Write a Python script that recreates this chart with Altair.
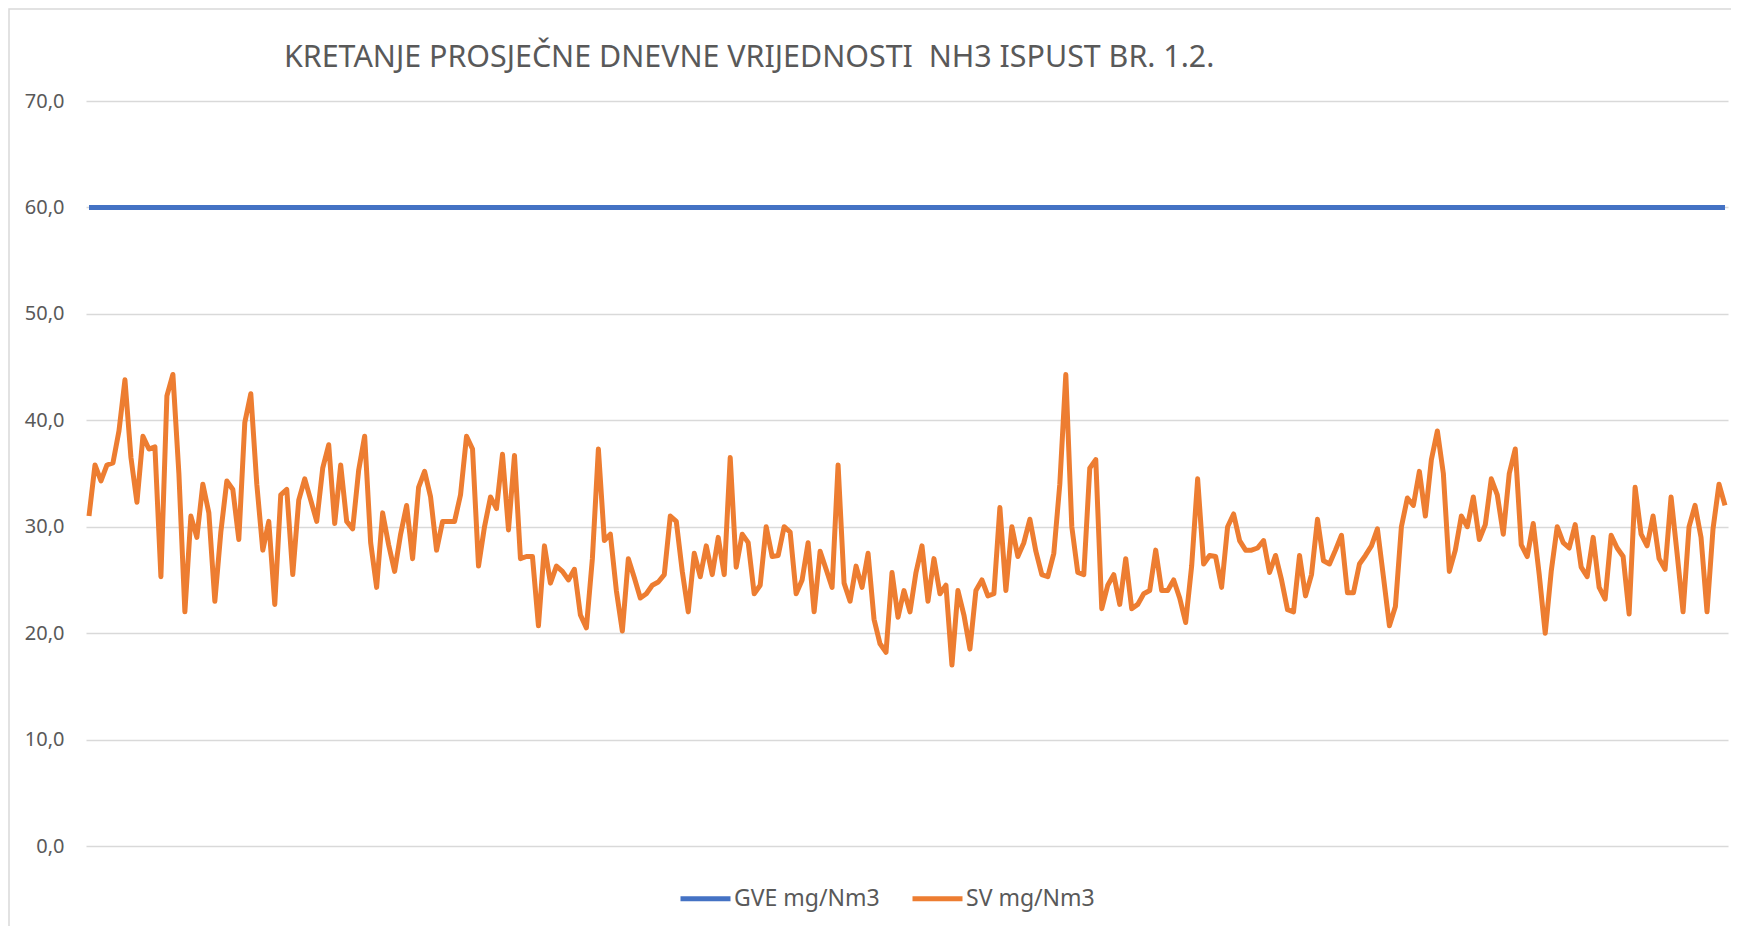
import altair as alt
import pandas as pd

sv_values = [
    31.0, 35.8, 34.3, 35.8, 36.0, 39.0, 43.8, 36.5, 32.3, 38.5, 37.3, 37.5, 25.3, 42.3, 44.3, 35.0,
    22.0, 31.0, 29.0, 34.0, 31.3, 23.0, 29.5, 34.3, 33.5, 28.8, 39.8, 42.5, 34.0, 27.8, 30.5, 22.7,
    33.0, 33.5, 25.5, 32.5, 34.5, 32.5, 30.5, 35.5, 37.7, 30.3, 35.8, 30.5, 29.8, 35.3, 38.5, 28.5,
    24.3, 31.3, 28.3, 25.8, 29.3, 32.0, 27.0, 33.7, 35.2, 32.8, 27.8, 30.5, 30.5, 30.5, 33.0, 38.5,
    37.3, 26.3, 30.0, 32.8, 31.7, 36.8, 29.7, 36.7, 27.0, 27.2, 27.2, 20.7, 28.2, 24.7, 26.3, 25.8,
    25.0, 26.0, 21.7, 20.5, 27.0, 37.3, 28.7, 29.3, 24.0, 20.2, 27.0, 25.2, 23.3, 23.7, 24.5, 24.8,
    25.5, 31.0, 30.5, 25.8, 22.0, 27.5, 25.3, 28.2, 25.5, 29.0, 25.5, 36.5, 26.2, 29.3, 28.5, 23.7,
    24.5, 30.0, 27.2, 27.3, 30.0, 29.5, 23.7, 25.0, 28.5, 22.0, 27.7, 26.0, 24.3, 35.8, 24.7, 23.0,
    26.3, 24.3, 27.5, 21.3, 19.0, 18.2, 25.7, 21.5, 24.0, 22.0, 25.7, 28.2, 23.0, 27.0, 23.7, 24.5,
    17.0, 24.0, 21.7, 18.5, 24.0, 25.0, 23.5, 23.7, 31.8, 24.0, 30.0, 27.2, 28.5, 30.7, 27.7, 25.5,
    25.3, 27.5, 34.0, 44.3, 30.0, 25.7, 25.5, 35.5, 36.3, 22.3, 24.5, 25.5, 22.7, 27.0, 22.3, 22.7,
    23.7, 24.0, 27.8, 24.0, 24.0, 25.0, 23.3, 21.0, 26.3, 34.5, 26.5, 27.3, 27.2, 24.3, 30.0, 31.2,
    28.7, 27.8, 27.8, 28.0, 28.7, 25.7, 27.3, 25.0, 22.2, 22.0, 27.3, 23.5, 25.5, 30.7, 26.8, 26.5,
    27.8, 29.2, 23.8, 23.8, 26.5, 27.3, 28.2, 29.8, 25.3, 20.7, 22.5, 30.0, 32.7, 32.0, 35.2, 31.0,
    36.3, 39.0, 35.0, 25.8, 27.8, 31.0, 30.0, 32.8, 28.8, 30.2, 34.5, 33.0, 29.3, 35.0, 37.3, 28.3,
    27.2, 30.3, 25.5, 20.0, 25.8, 30.0, 28.5, 28.0, 30.2, 26.2, 25.3, 29.0, 24.3, 23.2, 29.2, 28.0,
    27.2, 21.8, 33.7, 29.3, 28.2, 31.0, 27.0, 26.0, 32.8, 27.5, 22.0, 30.0, 32.0, 29.0, 22.0, 29.8,
    34.0, 32.0,
]
gve_value = 60.0
series_names = ["GVE mg/Nm3", "SV mg/Nm3"]
series_colors = ["#4472C4", "#ED7D31"]
y_ticks = [0, 10, 20, 30, 40, 50, 60, 70]
title_text = ["KRETANJE PROSJEČNE DNEVNE VRIJEDNOSTI \u00a0NH3 ISPUST BR. 1.2."]

n = len(sv_values)
rows = []
for i, v in enumerate(sv_values):
    rows.append({"idx": i + 0.5, "value": gve_value, "series": series_names[0]})
for i, v in enumerate(sv_values):
    rows.append({"idx": i + 0.5, "value": v, "series": series_names[1]})
df = pd.DataFrame(rows)

W, H = 1642, 745
FONT = "Noto Sans"
TXT = "#595959"

lines = alt.Chart(df).mark_line(strokeWidth=5, strokeJoin="round", strokeCap="butt").encode(
    x=alt.X("idx:Q", scale=alt.Scale(domain=[0, n], nice=False, zero=False), axis=None),
    y=alt.Y(
        "value:Q",
        scale=alt.Scale(domain=[0, 70], nice=False),
        axis=alt.Axis(
            values=y_ticks,
            title=None,
            domain=False,
            ticks=False,
            labelExpr="replace(format(datum.value, '.1f'), '.', ',')",
            labelFontSize=20,
            labelFont=FONT,
            labelColor=TXT,
            labelPadding=22,
            grid=True,
            gridColor="#D9D9D9",
            gridWidth=1.5,
        ),
    ),
    color=alt.Color(
        "series:N",
        scale=alt.Scale(domain=series_names, range=series_colors),
        legend=alt.Legend(
            title=None,
            orient="none",
            legendX=592,
            legendY=770,
            direction="horizontal",
            symbolType="stroke",
            symbolSize=2500,
            symbolStrokeWidth=5,
            labelFontSize=23,
            labelFont=FONT,
            labelColor=TXT,
            labelOffset=1,
            columnPadding=22,
        ),
    ),
    order=alt.Order("idx:Q"),
    detail="series:N",
)

one_row = pd.DataFrame({"k": [0]})
border = alt.Chart(one_row).mark_rect(fill=None, stroke="#D9D9D9", strokeWidth=1.5).encode(
    x=alt.value(-77), x2=alt.value(W + 9), y=alt.value(-92), y2=alt.value(H + 83)
)

title_df = pd.DataFrame({"t": title_text})
title = alt.Chart(title_df).mark_text(
    align="left", baseline="alphabetic", fontSize=30.4, font=FONT, color=TXT
).encode(text="t:N", x=alt.value(198), y=alt.value(-34))

chart = alt.layer(border, lines, title).properties(
    width=W,
    height=H,
    autosize=alt.AutoSizeParams(type="none"),
    padding={"left": 78, "top": 93, "right": 3, "bottom": 80},
).configure(background="white", view=alt.ViewConfig(stroke=None))

chart.save("out.html", embed_options={"renderer": "svg", "actions": False})
